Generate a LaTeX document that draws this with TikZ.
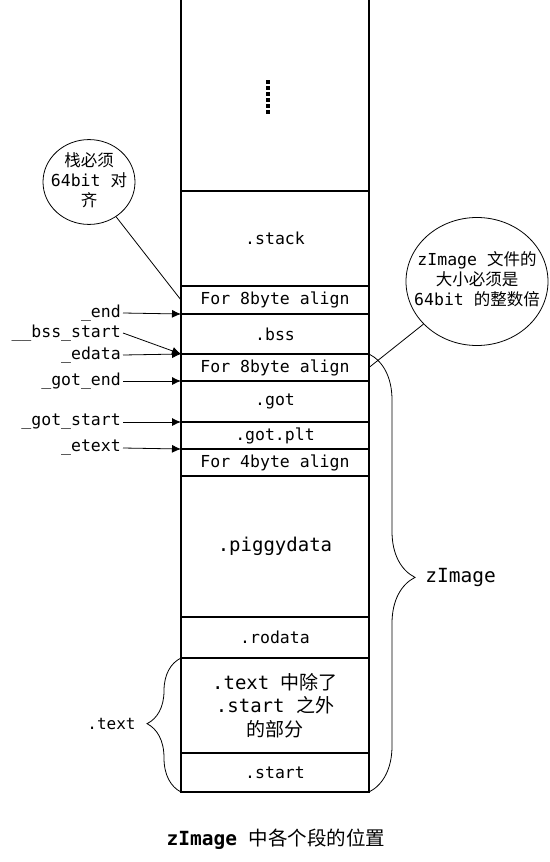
\documentclass[tikz,border=0pt]{standalone}
\usepackage{fontspec}
\setmainfont{DejaVu Sans Mono}
\newfontfamily\cjk{Noto Sans CJK SC}
\usetikzlibrary{arrows.meta,positioning,shapes.geometric,decorations.pathreplacing}
\newcommand{\notetext}[1]{\makebox[0pt]{\begin{tabular}{@{}c@{}}#1\end{tabular}}}

\begin{document}
\begin{tikzpicture}[x=1pt,y=-1pt,>={Latex[length=9pt,width=8pt]},
  seg/.style={draw,line width=1.2pt,minimum width=188pt,inner sep=0pt,outer sep=0pt,
    font=\fontsize{16.5}{20}\selectfont},
  big/.style={font=\fontsize{19}{23.3}\selectfont},
  sym/.style={inner sep=2pt,font=\fontsize{16.5}{20}\selectfont},
  note/.style={ellipse,draw,line width=0.8pt,inner sep=0pt,font=\fontsize{16.5}{20}\selectfont},
  tag/.style={inner sep=0pt},
  curly/.style={decorate,line width=0.8pt,decoration={brace,amplitude=#1}}]
  \useasboundingbox (0,0) rectangle (549,862);
  % memory column, from the top down
  \node[seg,draw=none,minimum height=191pt,anchor=south] (top) at (275,191) {};
  \draw[line width=1.2pt] (top.north west) -- (top.south west) -- (top.south east) -- (top.north east);
  \foreach \i in {0,...,5}
    \fill (265.5,80+6*\i) rectangle +(4,4);
  \node[seg,minimum height=95pt] (stack) [below=0pt of top] {.stack};
  \node[seg,minimum height=28pt] (pad1) [below=0pt of stack] {For 8byte align};
  \node[seg,minimum height=40pt] (bss) [below=0pt of pad1] {.bss};
  \node[seg,minimum height=27pt] (pad2) [below=0pt of bss] {For 8byte align};
  \node[seg,minimum height=41pt] (got) [below=0pt of pad2] {.got};
  \node[seg,minimum height=27pt] (gotplt) [below=0pt of got] {.got.plt};
  \node[seg,minimum height=27pt] (pad3) [below=0pt of gotplt] {For 4byte align};
  \node[seg,big,minimum height=141pt] (piggy) [below=0pt of pad3] {.piggydata};
  \node[seg,minimum height=41pt] (rodata) [below=0pt of piggy] {.rodata};
  \node[seg,big,minimum height=95pt,align=center] (textbody) [below=0pt of rodata]
    {.text \cjk{中除了}\\.start \cjk{之外}\\\cjk{的部分}};
  \node[seg,minimum height=39pt] (start) [below=0pt of textbody] {.start};

  % symbols
  \node[sym,anchor=east] (endsym) at (123,313) {\_end};
  \node[sym,anchor=east] (bssstart) at (123,333) {\_\_bss\_start};
  \node[sym,anchor=east] (edata) at (123,355) {\_edata};
  \node[sym,anchor=east] (gotend) at (123,381) {\_got\_end};
  \node[sym,anchor=east] (gotstart) at (123,422) {\_got\_start};
  \node[sym,anchor=east] (etext) at (123,448) {\_etext};
  \path[->,line width=0.8pt]
    (endsym.east) edge (pad1.south west)
    (bssstart.east) edge (bss.south west)
    (edata.east) edge (bss.south west)
    (gotend.east) edge (pad2.south west)
    (gotstart.east) edge (got.south west)
    (etext.east) edge (gotplt.south west);

  % notes
  \node[note,minimum width=92pt,minimum height=74pt] (stacknote) at (89,182)
    {\notetext{\cjk{栈必须}\\64bit \cjk{对}\\\cjk{齐}}};
  \node[note,minimum width=142pt,minimum height=128pt] (sizenote) at (477,281.5)
    {\notetext{zImage \cjk{文件的}\\\cjk{大小必须是}\\64bit \cjk{的整数倍}}};
  \draw[line width=0.8pt] (stacknote) -- (pad1.west);
  \draw[line width=0.8pt] (sizenote) -- (pad2.east);

  % braces
  \draw[curly=46pt,decoration={aspect=0.51}] (pad2.north east) -- node[tag,pos=0.51,right=56pt,font=\fontsize{19.5}{23}\selectfont] (zlabel) {zImage} (start.south east);
  \draw[curly=34pt,decoration={aspect=0.51}] (start.south west) -- node[tag,pos=0.51,left=45pt,font=\fontsize{16}{20}\selectfont] (textlabel) {.text} (textbody.north west);

  \node[font=\fontsize{19.5}{23}\selectfont] (caption) at (276,839) {\textbf{zImage} \cjk{中各个段的位置}};
\end{tikzpicture}
\end{document}
